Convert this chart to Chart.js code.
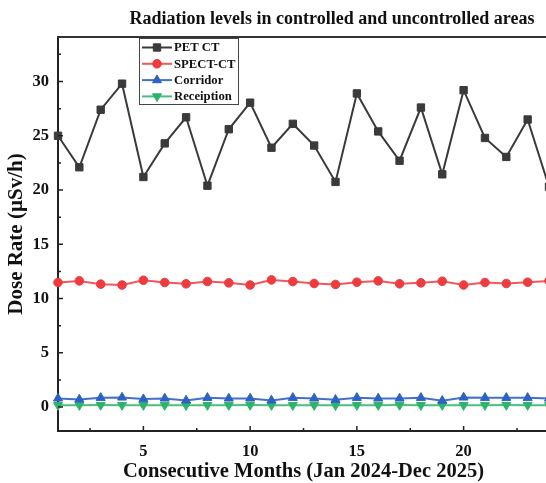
<!DOCTYPE html>
<html>
<head>
<meta charset="utf-8">
<script src="https://cdn.jsdelivr.net/npm/chart.js@4/dist/chart.umd.min.js"></script>
<style>
  html, body { margin: 0; padding: 0; background: #fff; overflow: hidden; }
  #wrap { width: 556px; height: 483px; }
</style>
</head>
<body>
<div id="wrap"><canvas id="c" width="556" height="483"></canvas></div>
<script>
// ---- data ----
const months = [1,2,3,4,5,6,7,8,9,10,11,12,13,14,15,16,17,18,19,20,21,22,23,24];
const seriesNames = ["PET CT", "SPECT-CT", "Corridor", "Receiption"];
const petCT = [25.0,22.1,27.4,29.8,21.2,24.3,26.7,20.4,25.6,28.05,23.9,26.1,24.1,20.75,28.9,25.4,22.7,27.6,21.45,29.2,24.8,23.05,26.5,20.3];
const spectCT = [11.48,11.63,11.33,11.25,11.69,11.48,11.36,11.57,11.45,11.25,11.72,11.57,11.39,11.3,11.51,11.63,11.36,11.45,11.6,11.25,11.48,11.39,11.51,11.63];
const corridor = [0.8,0.71,0.86,0.89,0.74,0.8,0.62,0.86,0.8,0.8,0.62,0.86,0.8,0.68,0.86,0.8,0.8,0.86,0.59,0.89,0.86,0.86,0.86,0.8];
const reception = [0.18,0.18,0.19,0.18,0.18,0.18,0.17,0.18,0.18,0.19,0.18,0.18,0.18,0.17,0.18,0.18,0.19,0.18,0.18,0.18,0.18,0.19,0.18,0.18];
const xMajorTicks = [5,10,15,20];
const xMinorTicks = [2.5,7.5,12.5,17.5,22.5];
const yMajorTicks = [0,5,10,15,20,25,30];
const yMinorTicks = [2.5,7.5,12.5,17.5,22.5,27.5,32.5];
const titleText = "Radiation levels in controlled and uncontrolled areas";
const xTitle = "Consecutive Months (Jan 2024-Dec 2025)";
const yTitle = "Dose Rate (\u00B5Sv/h)";

const SERIF = "'Liberation Serif', 'Times New Roman', serif";
Chart.defaults.font.family = SERIF;
Chart.defaults.color = '#111';

function pts(arr) { return months.map((m, i) => ({x: m, y: arr[i]})); }

const styles = [
  {color: '#3a3a3a', line: '#3a3a3a', pointStyle: 'rect', radius: 5.2, rot: 0},
  {color: '#ee3b3e', line: 'rgba(238,59,62,0.85)', pointStyle: 'circle', radius: 4.3, rot: 0},
  {color: '#2d62c4', line: 'rgba(45,98,196,0.9)', pointStyle: 'triangle', radius: 5.2, rot: 0},
  {color: '#2eb36b', line: 'rgba(46,179,107,0.85)', pointStyle: 'triangle', radius: 5.2, rot: 180}
];
const allSeries = [petCT, spectCT, corridor, reception];

const datasets = allSeries.map((arr, i) => ({
  label: seriesNames[i],
  data: pts(arr),
  borderColor: styles[i].line,
  backgroundColor: styles[i].color,
  pointBackgroundColor: styles[i].color,
  pointBorderColor: styles[i].color,
  pointStyle: styles[i].pointStyle,
  pointRadius: styles[i].radius,
  pointRotation: styles[i].rot,
  pointBorderWidth: 1,
  borderWidth: 2,
  tension: 0,
  clip: false
}));

// draw the title, top frame line, inward ticks and the boxed legend
const decor = {
  id: 'decor',
  afterDatasetsDraw(chart) {
    const ctx = chart.ctx;
    const ca = chart.chartArea;
    const xs = chart.scales.x, ys = chart.scales.y;
    ctx.save();
    // top frame
    ctx.strokeStyle = '#333';
    ctx.lineWidth = 2;
    ctx.beginPath();
    ctx.moveTo(ca.left - 1, ca.top);
    ctx.lineTo(ca.right + 10, ca.top);
    ctx.stroke();
    // inward ticks
    ctx.strokeStyle = '#222';
    ctx.lineWidth = 1.5;
    ctx.beginPath();
    xMajorTicks.forEach(v => { const p = xs.getPixelForValue(v); ctx.moveTo(p, ca.bottom); ctx.lineTo(p, ca.bottom - 5); });
    xMinorTicks.forEach(v => { const p = xs.getPixelForValue(v); ctx.moveTo(p, ca.bottom); ctx.lineTo(p, ca.bottom - 3); });
    yMajorTicks.forEach(v => { const p = ys.getPixelForValue(v); ctx.moveTo(ca.left, p); ctx.lineTo(ca.left + 5, p); });
    yMinorTicks.forEach(v => { const p = ys.getPixelForValue(v); ctx.moveTo(ca.left, p); ctx.lineTo(ca.left + 3, p); });
    ctx.stroke();

    // legend
    const lx = 139, ly = 38, lw = 99, lh = 66;
    ctx.fillStyle = '#fff';
    ctx.fillRect(lx, ly, lw, lh);
    ctx.strokeStyle = '#444';
    ctx.lineWidth = 1;
    ctx.strokeRect(lx + 0.5, ly + 0.5, lw, lh);
    ctx.font = "bold 12.7px " + SERIF;
    ctx.textBaseline = 'middle';
    ctx.textAlign = 'left';
    chart.data.datasets.forEach((ds, i) => {
      const cy = 47.5 + i * 16.3;
      ctx.strokeStyle = ds.borderColor;
      ctx.lineWidth = 2;
      ctx.beginPath();
      ctx.moveTo(142, cy); ctx.lineTo(172, cy);
      ctx.stroke();
      ctx.fillStyle = ds.pointBackgroundColor;
      ctx.strokeStyle = ds.pointBorderColor;
      ctx.lineWidth = 1;
      Chart.helpers.drawPoint(ctx, {pointStyle: ds.pointStyle, radius: ds.pointRadius, rotation: ds.pointRotation, borderWidth: 1}, 157, cy);
      ctx.fillStyle = '#111';
      ctx.fillText(ds.label, 174, cy + 0.5);
    });

    // title
    ctx.fillStyle = '#111';
    ctx.font = "bold 18px " + SERIF;
    ctx.textAlign = 'center';
    ctx.textBaseline = 'middle';
    ctx.fillText(titleText, 332, 19);
    ctx.restore();
  }
};

new Chart(document.getElementById('c'), {
  type: 'line',
  data: { datasets },
  options: {
    responsive: false,
    animation: false,
    devicePixelRatio: 1,
    layout: { padding: { top: 37, right: 7, left: 0, bottom: 0 } },
    plugins: { legend: { display: false }, title: { display: false }, tooltip: { enabled: false } },
    scales: {
      x: {
        type: 'linear',
        min: 1, max: 24,
        afterFit(s) { s.height = 52; },
        afterBuildTicks(s) { s.ticks = xMinorTicks.concat(xMajorTicks).sort((a,b)=>a-b).map(v => ({value: v})); },
        grid: { display: false, drawTicks: false },
        border: { display: true, color: '#222', width: 2 },
        ticks: {
          autoSkip: false, maxRotation: 0, padding: 11,
          font: { size: 16.5, weight: 'bold' }, color: '#111',
          callback: (v) => xMajorTicks.includes(v) ? String(v) : ''
        },
        title: { display: true, text: xTitle, font: { size: 20.5, weight: 'bold', lineHeight: 1.1 }, color: '#111', padding: { top: 0, bottom: 0 } }
      },
      y: {
        min: -2.2, max: 34.1,
        afterFit(s) { s.width = 58; },
        afterBuildTicks(s) { s.ticks = yMinorTicks.concat(yMajorTicks).sort((a,b)=>a-b).map(v => ({value: v})); },
        grid: { display: false, drawTicks: false },
        border: { display: true, color: '#222', width: 2 },
        ticks: {
          autoSkip: false, padding: 9,
          font: { size: 16.5, weight: 'bold' }, color: '#111',
          callback: (v) => yMajorTicks.includes(v) ? String(v) : ''
        },
        title: { display: true, text: yTitle, font: { size: 21, weight: 'bold', lineHeight: 1.1 }, color: '#111', padding: { top: 5, bottom: 0 } }
      }
    }
  },
  plugins: [decor]
});
</script>
</body>
</html>
